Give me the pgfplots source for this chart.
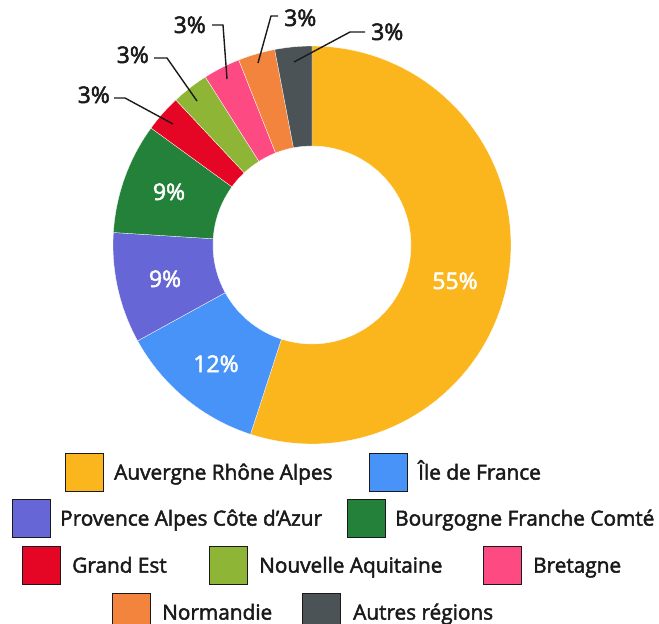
\documentclass[border=0pt]{standalone}
\usepackage{pgfplots}
\pgfplotsset{compat=1.18}
\usepackage{fontspec}
\setmainfont{Open Sans}[FakeBold=2.2]
\definecolor{cA}{HTML}{FBB51D}
\definecolor{cB}{HTML}{4793F8}
\definecolor{cC}{HTML}{6666D6}
\definecolor{cD}{HTML}{238139}
\definecolor{cE}{HTML}{E50626}
\definecolor{cF}{HTML}{8EB536}
\definecolor{cG}{HTML}{FE4A83}
\definecolor{cH}{HTML}{F2843E}
\definecolor{cI}{HTML}{4B5357}
\definecolor{txt}{HTML}{1A1A1A}
% donut geometry (pixels): centre, outer and inner radius
\def\cx{312}\def\cy{245}\def\Ro{199}\def\Ri{99}
\def\cum{90}
\def\dd{0.0125}% sample step (domain 0:2, 161 samples)
\newcommand\sector[2]{% #1 = percentage, #2 = colour
  \pgfmathsetmacro\sa{\cum}%
  \pgfmathsetmacro\sb{\cum-3.6*#1}%
  \edef\temp{\noexpand\addplot[fill=#2, draw=white, line width=0.3pt, domain=0:2, samples=161, variable=\noexpand\t]
    ({ifthenelse(\noexpand\t<1.005, \cx+\Ro*cos(\sa+(\sb-\sa)*\noexpand\t), \cx+\Ri*cos(\sb+(\sa-\sb)*max((\noexpand\t-1-\dd)/(1-\dd),0)))},
     {ifthenelse(\noexpand\t<1.005, \cy-\Ro*sin(\sa+(\sb-\sa)*\noexpand\t), \cy-\Ri*sin(\sb+(\sa-\sb)*max((\noexpand\t-1-\dd)/(1-\dd),0)))}) -- cycle;}%
  \temp
  \global\let\cum\sb
}
\newcommand\legsq[5]{% x0, y centre, colour, text x, text
  \draw[fill=#3, draw=txt, line width=0.8pt] (axis cs:#1,#2-19) rectangle (axis cs:#1+38,#2+19);
  \node[anchor=base west, inner sep=0pt, text=txt] at (axis cs:#4,#2+7.6) {#5};
}
\newcommand\lab{\fontsize{23}{27}\selectfont}
\begin{document}
\begin{tikzpicture}
\useasboundingbox (0,0) rectangle (659pt,624pt);
\begin{axis}[
  at={(0,0)}, anchor=south west,
  width=659pt, height=624pt, scale only axis,
  xmin=0, xmax=659, ymin=0, ymax=624, y dir=reverse,
  hide axis, clip=false,
  font=\fontsize{20.8}{25}\selectfont,
]
% values (percent), clockwise from the top
\sector{55}{cA}
\sector{12}{cB}
\sector{9}{cC}
\sector{9}{cD}
\sector{3}{cE}
\sector{3}{cF}
\sector{3}{cG}
\sector{3}{cH}
\sector{3}{cI}
% inside labels
\node[anchor=base, inner sep=0pt, text=white, font=\lab] at (axis cs:455,289) {55\%};
\node[anchor=base, inner sep=0pt, text=white, font=\lab] at (axis cs:216,372) {12\%};
\node[anchor=base, inner sep=0pt, text=white, font=\lab] at (axis cs:165,287) {9\%};
\node[anchor=base, inner sep=0pt, text=white, font=\lab] at (axis cs:169,200) {9\%};
% leader lines
\addplot[txt, line width=1.4pt] coordinates {(173,124) (125,98) (114,98)};
\addplot[txt, line width=1.4pt] coordinates {(197,101) (167,58) (154,58)};
\addplot[txt, line width=1.4pt] coordinates {(227,79) (223,25) (212,25)};
\addplot[txt, line width=1.4pt] coordinates {(258,63) (271,16) (278,16)};
\addplot[txt, line width=1.4pt] coordinates {(294,62) (350,32) (365,32)};
\node[anchor=base east, inner sep=0pt, text=txt, font=\lab] at (axis cs:110,103) {3\%};
\node[anchor=base east, inner sep=0pt, text=txt, font=\lab] at (axis cs:149,63) {3\%};
\node[anchor=base east, inner sep=0pt, text=txt, font=\lab] at (axis cs:206,33) {3\%};
\node[anchor=base west, inner sep=0pt, text=txt, font=\lab] at (axis cs:284,26) {3\%};
\node[anchor=base west, inner sep=0pt, text=txt, font=\lab] at (axis cs:371,40) {3\%};
% legend
\legsq{65}{472}{cA}{114}{Auvergne Rhône Alpes}
\legsq{369}{472}{cB}{418}{Île de France}
\legsq{12}{518}{cC}{60}{Provence Alpes Côte d’Azur}
\legsq{347}{518}{cD}{395}{Bourgogne Franche Comté}
\legsq{22}{565}{cE}{72}{Grand Est}
\legsq{209}{565}{cF}{259}{Nouvelle Aquitaine}
\legsq{483}{565}{cG}{533}{Bretagne}
\legsq{112}{612}{cH}{162}{Normandie}
\legsq{302}{612}{cI}{353}{Autres régions}
\end{axis}
\end{tikzpicture}
\end{document}
